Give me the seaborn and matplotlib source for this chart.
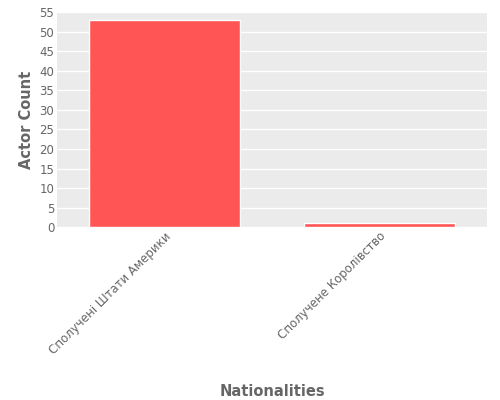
import matplotlib
matplotlib.use("Agg")
import matplotlib.pyplot as plt
import seaborn as sns
import pandas as pd

nationalities = ["Сполучені Штати Америки", "Сполучене Королівство"]
counts = [53, 1]

sns.set_theme(style="darkgrid", rc={"axes.facecolor": "#EBEBEB", "grid.color": "white"})
plt.rcParams['font.family'] = ['DejaVu Sans']
df = pd.DataFrame({"Nationalities": nationalities, "Actor Count": counts})

fig = plt.figure(figsize=(5, 4), dpi=100)
ax = fig.add_axes([0.114, 0.432, 0.86, 0.538])
sns.barplot(data=df, x="Nationalities", y="Actor Count", color="#FF5555", saturation=1, width=0.7, ax=ax)
ax.set_ylim(0, 55)
ax.set_yticks(range(0, 56, 5))
ax.tick_params(axis="both", colors="#666666", labelsize=8.5, length=0, pad=2)
plt.setp(ax.get_xticklabels(), rotation=45, ha="right", rotation_mode="anchor")
ax.set_xlabel("Nationalities", color="#666666", fontsize=10.5, fontweight="bold", labelpad=4)
ax.xaxis.set_label_coords(0.5, -0.73)
ax.set_ylabel("Actor Count", color="#666666", fontsize=10.5, fontweight="bold")
for s in ax.spines.values():
    s.set_visible(False)
fig.savefig("out.png", dpi=100)
